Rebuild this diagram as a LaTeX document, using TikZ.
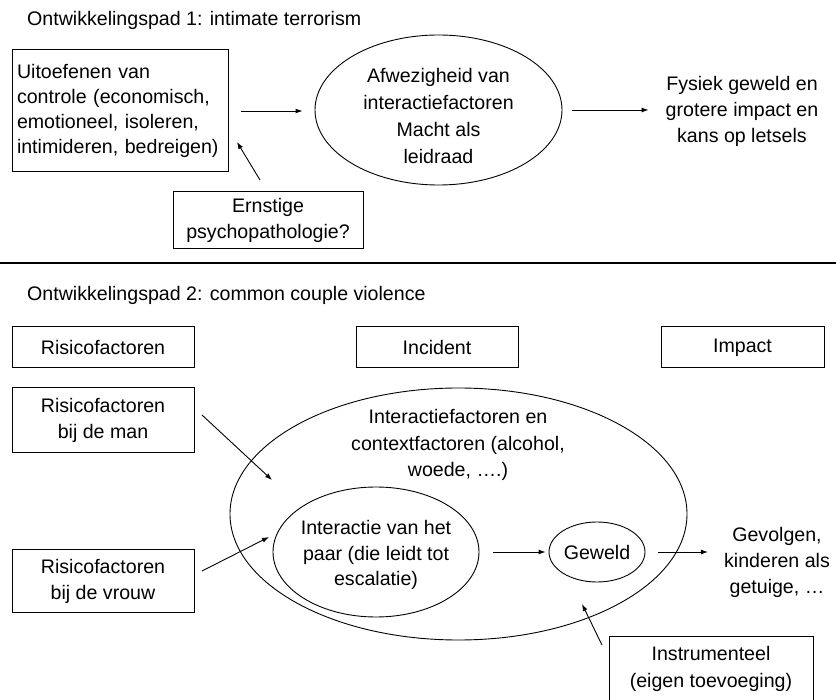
\documentclass[tikz,border=0pt]{standalone}
\usepackage{fontspec}
\setmainfont{Liberation Sans}
\usetikzlibrary{shapes.geometric,arrows.meta,calc}
\begin{document}
\begin{tikzpicture}[x=1pt,y=-1pt,
  txt/.style={font=\fontsize{19.6}{25.5}\selectfont, inner sep=0pt, align=center},
  boxnode/.style={draw, line width=1pt, inner sep=0pt, align=center, font=\fontsize{19.6}{26}\selectfont},
  ell/.style={draw, ellipse, line width=0.9pt, inner sep=0pt, font=\fontsize{19.6}{25.5}\selectfont},
  arr/.style={-{Latex[length=7pt,width=5pt]}, line width=0.9pt}]
\fill[white] (0,0) rectangle (836,700);
\clip (0,0) rectangle (836,700);

% ---- Path 1
\node[txt, anchor=west] (t1) at (27,20) {Ontwikkelingspad 1: intimate terrorism};
\node[boxnode, minimum width=216pt, minimum height=122pt, text width=206pt, align=left,
      font=\fontsize{19.6}{25}\selectfont] (box1) at (120,111)
  {Uitoefenen van\\controle (economisch,\\emotioneel, isoleren,\\intimideren, bedreigen)};
\node[ell, minimum width=247pt, minimum height=150pt] (ell1) at (438.5,110) {};
\node[txt, font=\fontsize{19.6}{27}\selectfont] (ell1t) at (438.5,116)
  {Afwezigheid van\\interactiefactoren\\Macht als\\leidraad};
\node[txt, font=\fontsize{19.6}{26}\selectfont] (fys) at (742,111.5)
  {Fysiek geweld en\\grotere impact en\\kans op letsels};
\node[boxnode, minimum width=190pt, minimum height=57pt] (ern) at (268,220.5)
  {Ernstige\\psychopathologie?};

\draw[arr, shorten <=12pt, shorten >=12pt] (box1.east) -- (box1.east -| ell1.west);
\draw[arr, shorten <=10pt, shorten >=17pt] (ell1.east) -- (ell1.east -| fys.west);
\coordinate (e1) at (260,180);
\coordinate (e2) at (237,142);
\draw[arr] (e1) -- (e2);

% ---- separator
\draw[line width=1.3pt] (0,263) -- (836,263);

% ---- Path 2
\node[txt, anchor=west] (t2) at (27,295) {Ontwikkelingspad 2: common couple violence};
\node[boxnode, minimum width=182pt, minimum height=41pt] (h1) at (103,347.5) {Risicofactoren};
\node[boxnode, minimum width=162pt, minimum height=41pt] (h2) at (437,347.5) {Incident};
\node[boxnode, minimum width=163pt, minimum height=41pt] (h3) at (742.5,347.5) {Impact};

\node[boxnode, minimum width=182pt, minimum height=65pt] (man) at (103,420.5)
  {Risicofactoren\\bij de man};
\node[boxnode, minimum width=182pt, minimum height=62pt] (vrouw) at (103,581)
  {Risicofactoren\\bij de vrouw};

\node[ell, minimum width=457pt, minimum height=252pt] (big) at (458.5,514) {};
\node[txt, font=\fontsize{19.6}{26.5}\selectfont] (bigt) at (458,445)
  {Interactiefactoren en\\contextfactoren (alcohol,\\woede, ….)};
\node[ell, minimum width=206pt, minimum height=130pt] (inner) at (376,552) {};
\node[txt] (innert) at (376,555)
  {Interactie van het\\paar (die leidt tot\\escalatie)};
\node[ell, minimum width=96pt, minimum height=60pt] (geweld) at (597,552) {Geweld};
\node[txt, font=\fontsize{19.6}{26}\selectfont] (gevolgen) at (777,562.5)
  {Gevolgen,\\kinderen als\\getuige, …};
\node[boxnode, minimum width=204pt, minimum height=65pt, font=\fontsize{19.6}{27}\selectfont] (instr) at (711,668.5)
  {Instrumenteel\\(eigen toevoeging)};

\coordinate (m1) at (202,415);
\coordinate (m2) at (272,480);
\draw[arr] (m1) -- (m2);
\coordinate (v1) at (202,571);
\coordinate (v2) at (269,537);
\draw[arr] (v1) -- (v2);
\draw[arr, shorten <=14pt, shorten >=3pt] (inner.east) -- (geweld.west);
\draw[arr, shorten <=13pt, shorten >=16pt] (geweld.east) -- (geweld.east -| gevolgen.west);
\coordinate (i1) at (602,645);
\coordinate (i2) at (582,604);
\draw[arr] (i1) -- (i2);
\end{tikzpicture}
\end{document}
